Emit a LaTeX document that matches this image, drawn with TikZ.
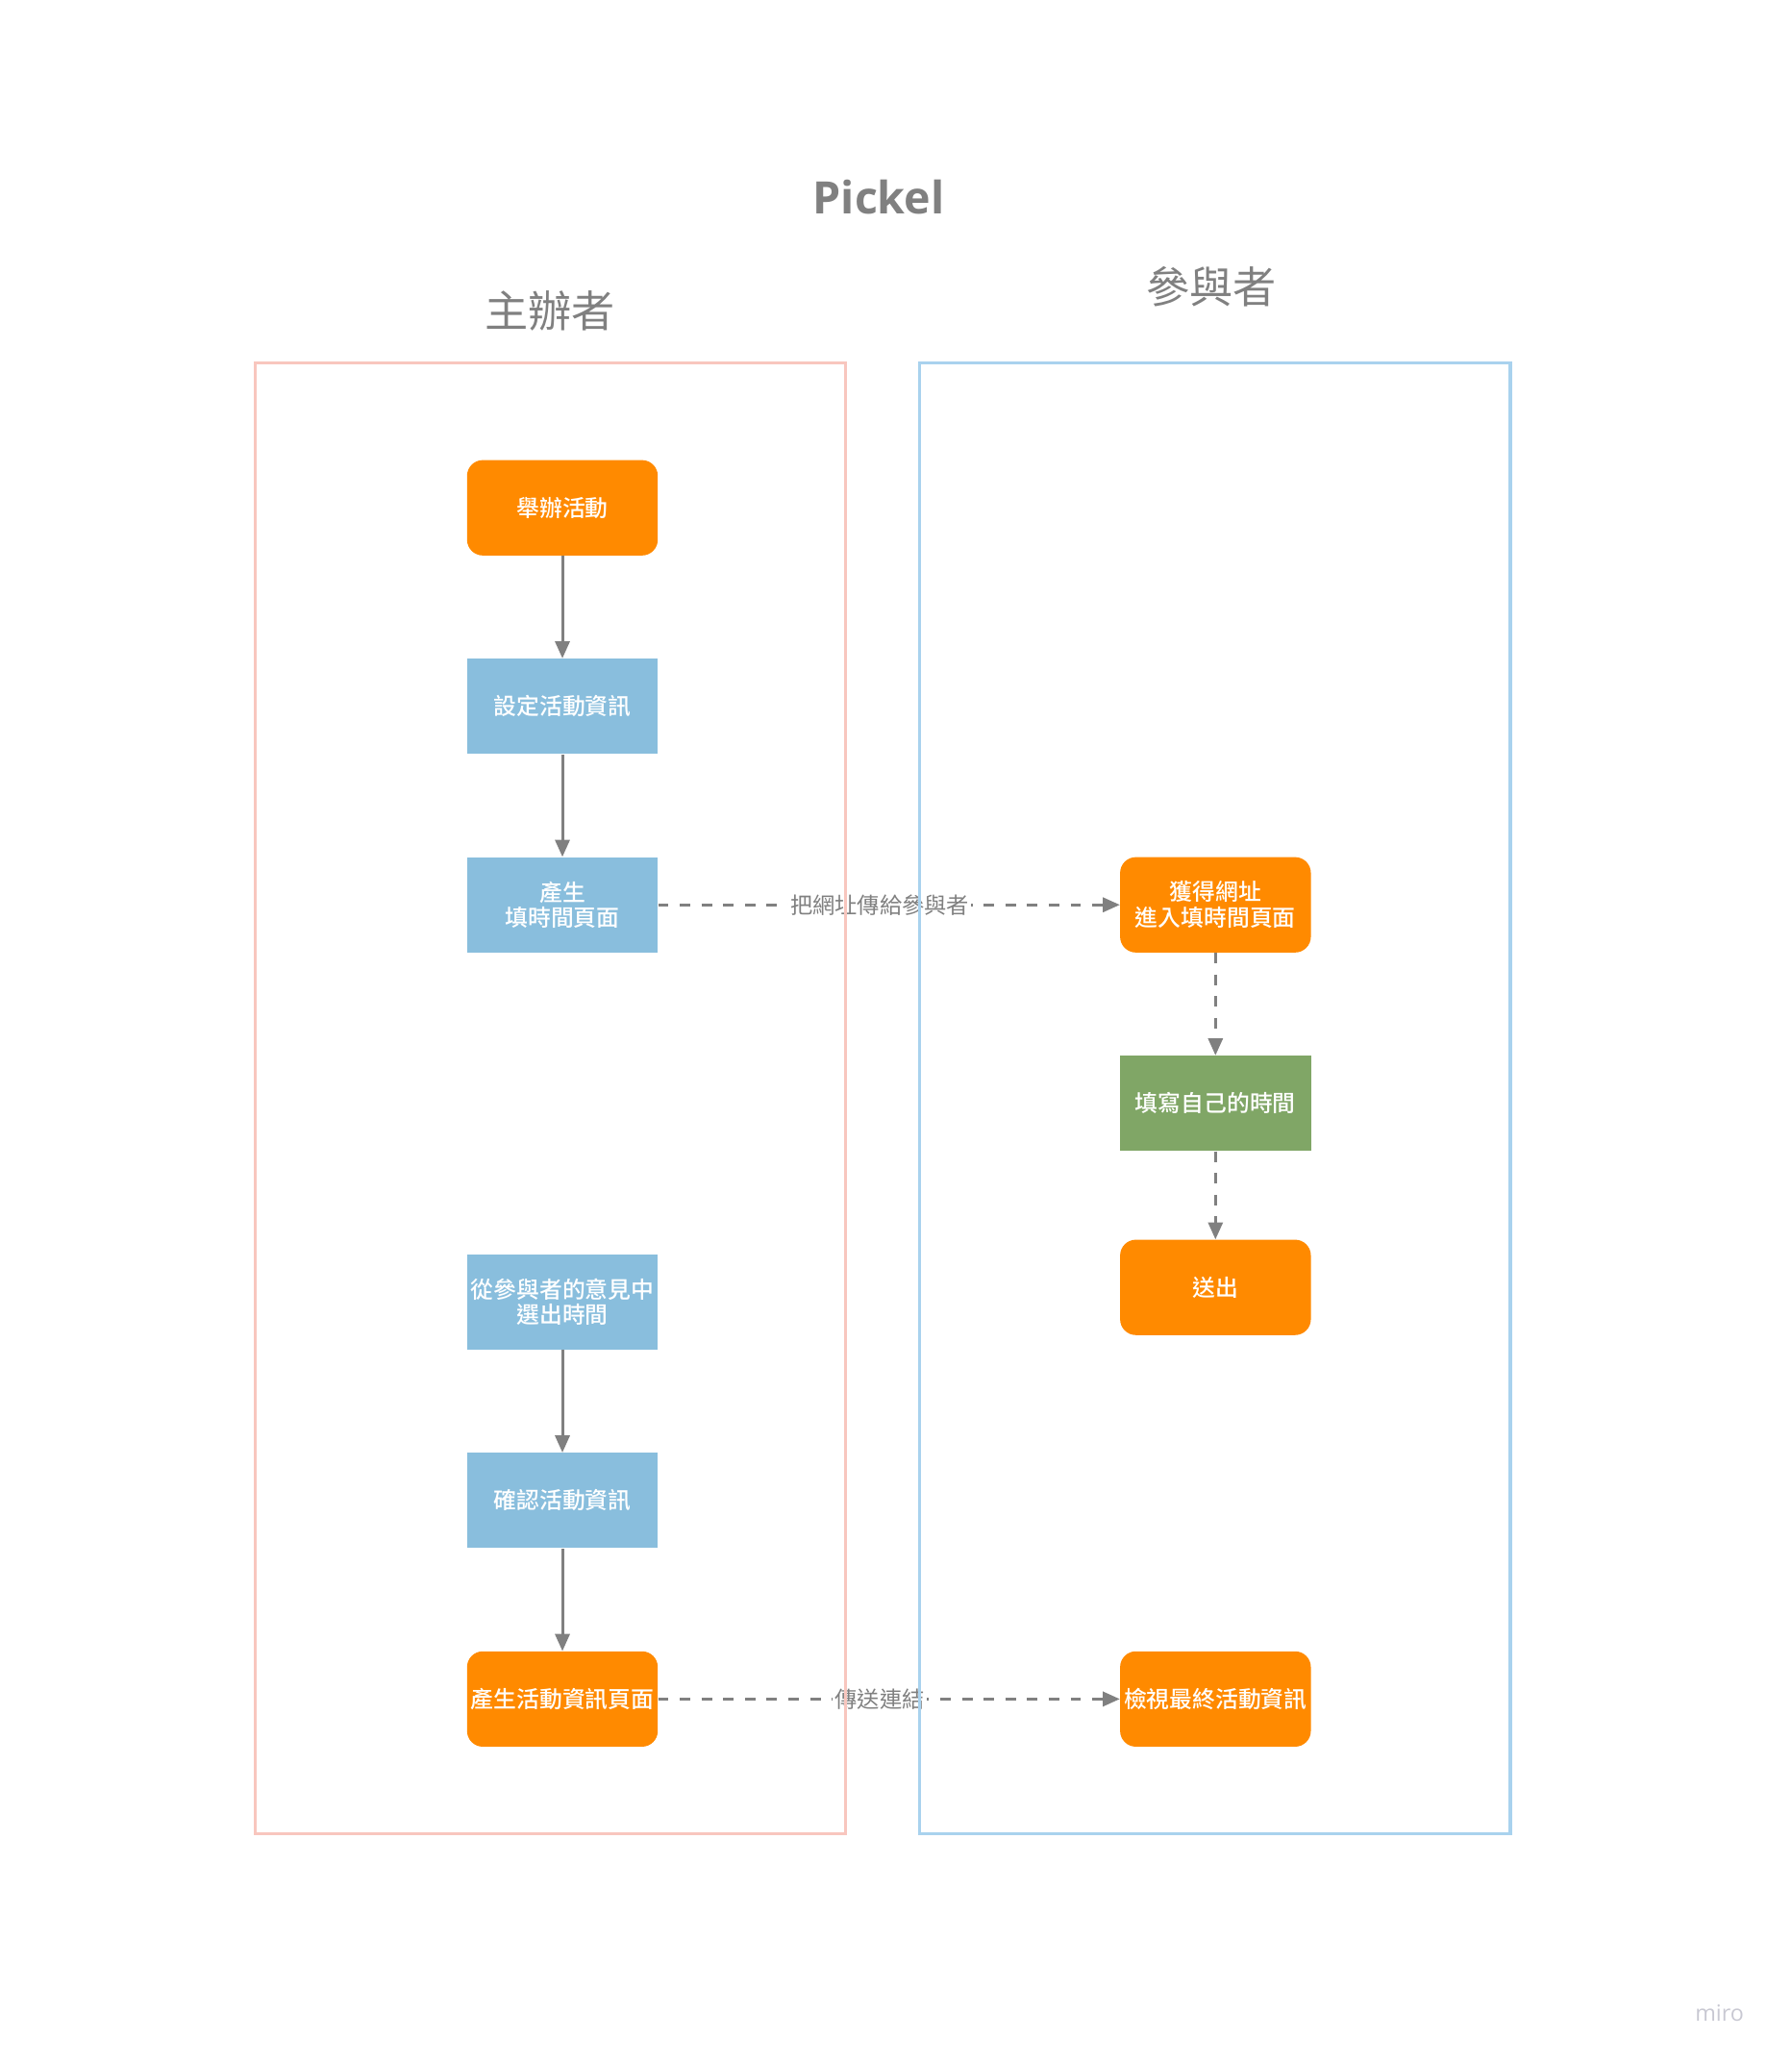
\documentclass[tikz,border=0pt]{standalone}
\usepackage{fontspec}
\setmainfont{Open Sans}
\newfontfamily\cjk{Noto Sans CJK TC}
\newfontfamily\cjkmid{Noto Sans CJK TC Medium}
\usetikzlibrary{arrows.meta,positioning}
\definecolor{eventorange}{RGB}{255,138,0}
\definecolor{taskblue}{RGB}{137,190,221}
\definecolor{fillgreen}{RGB}{128,166,102}
\definecolor{linegray}{RGB}{128,128,128}
\definecolor{hostpink}{RGB}{248,198,190}
\definecolor{guestblue}{RGB}{169,210,238}
\definecolor{logogray}{RGB}{200,200,210}
\tikzset{event/.style={
    rectangle,minimum width=145pt,minimum height=72.5pt,inner sep=0pt,
    rounded corners=12pt,fill=eventorange,text=white,align=center,
    font=\cjkmid\fontsize{17.4}{19.5}\selectfont}}
\tikzset{task/.style={event,sharp corners,fill=taskblue}}
\tikzset{mine/.style={event,sharp corners,fill=fillgreen}}
\tikzset{lane/.style={rectangle,minimum width=449pt,minimum height=1118pt,line width=2.2pt}}
\tikzset{lanehead/.style={text=linegray,font=\cjk\fontsize{33}{36}\selectfont}}
\tikzset{flow/.style={-{Triangle[length=13pt,width=11pt]},line width=2.2pt,draw=linegray}}
\tikzset{hand/.style={flow,dash pattern=on 8pt off 8.5pt}}
\tikzset{handlabel/.style={fill=white,inner sep=1.5pt,text=linegray,
    font=\cjk\fontsize{17}{19}\selectfont}}

\begin{document}
\begin{tikzpicture}[x=1pt,y=-1pt,node distance=78pt]
  \useasboundingbox (0,0) rectangle (1361.5,1568.2);

  \node (title) [text=linegray,font=\bfseries\fontsize{34}{40}\selectfont] at (668,150) {Pickel};
  \node (hosthead)  [lanehead] at (418,236) {主辦者};
  \node (guesthead) [lanehead] at (921,218) {參與者};

  % host column
  \node (hold)     [event] at (427.5,386)            {舉辦活動};
  \node (setinfo)  [task,below=of hold]              {設定活動資訊};
  \node (makepage) [task,below=of setinfo]           {產生\\填時間頁面};
  \node (choose)   [task,below=229pt of makepage]    {從參與者的意見中\\選出時間};
  \node (confirm)  [task,below=of choose]            {確認活動資訊};
  \node (infopage) [event,below=of confirm]          {產生活動資訊頁面};

  % guest column
  \node (geturl)   [event,right=351pt of makepage]   {獲得網址\\進入填時間頁面};
  \node (fillin)   [mine,below=of geturl]            {填寫自己的時間};
  \node (submit)   [event,below=67pt of fillin]      {送出};
  \node (viewinfo) [event,right=351pt of infopage]   {檢視最終活動資訊};

  \draw [flow] (hold) -- (setinfo);
  \draw [flow] (setinfo) -- (makepage);
  \draw [flow] (choose) -- (confirm);
  \draw [flow] (confirm) -- (infopage);
  \draw [hand] (geturl) -- (fillin);
  \draw [hand] (fillin) -- (submit);
  \draw [hand] (makepage) -- node [handlabel,pos=0.48] {把網址傳給參與者} (geturl);
  \draw [hand] (infopage) -- node [handlabel,pos=0.48] {傳送連結} (viewinfo);

  \node (hostlane)  [lane,draw=hostpink]  at (418.5,835) {};
  \node (guestlane) [lane,draw=guestblue] at (923.5,835) {};

  \node (logo) [text=logogray,font=\fontsize{17}{20}\selectfont] at (1307,1530) {miro};
\end{tikzpicture}
\end{document}
